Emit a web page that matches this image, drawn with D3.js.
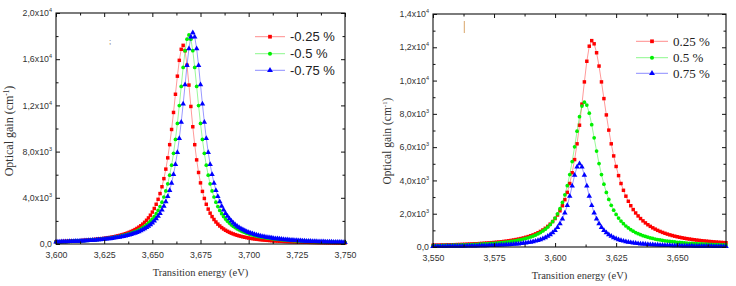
<!DOCTYPE html>
<html>
<head>
<meta charset="utf-8">
<script src="https://cdn.jsdelivr.net/npm/d3@7"></script>
<style>
	body { margin: 0; background: #fff; }
	svg { display: block; font-family: "Liberation Sans", Arial, sans-serif; }
</style>
</head>
<body>
<svg id="chart" width="736" height="286"></svg>
<script>
// points are sampled every 1 meV
var STEP_E = 0.001;
var LEFT_START = 3.600;
var RIGHT_START = 3.550;

var leftLabels = ["-0.25 %", "-0.5 %", "-0.75 %"];
var rightLabels = ["0.25 %", "0.5 %", "0.75 %"];

// left panel, 3.600 .. 3.750 eV
var leftRed = [191,198,203,210,217,224,230,239,248,256,265,273,284,294,306,318,330,344,358,373,
	389,406,425,444,464,487,511,537,564,595,626,662,700,741,786,834,888,948,1011,1084,
	1163,1250,1348,1459,1581,1720,1877,2055,2260,2494,2764,3075,3440,3867,4367,4957,5657,6483,7458,8600,
	9916,11390,12965,14531,15901,16856,17200,
	16736,15480,13760,11908,10151,8600,7284,6192,5292,4553,3944,3440,3020,2669,2372,2121,1906,1720,1560,1421,
	1299,1190,1096,1011,937,870,810,755,705,662,621,585,550,519,490,464,440,418,397,378,
	361,344,329,315,301,287,275,265,255,244,236,225,218,210,203,194,189,182,175,170,
	165,160,155,150,145,141,137,133,129,125,122,119,115,112,109,106,104,101,99,96,94,92,89,87];

var leftGreen = [185,190,195,201,208,214,221,228,235,243,252,261,270,279,288,299,310,322,335,348,
	362,376,393,409,427,447,467,489,512,538,565,594,626,659,697,737,780,827,878,934,
	997,1064,1140,1224,1316,1419,1535,1663,1810,1975,2163,2378,2625,2909,3236,3620,4069,4596,5216,5953,
	6822,7848,9050,10435,11986,13644,15291,16733,17738,18100,
	17738,16733,15291,13644,11986,10435,9050,7848,6822,5953,5216,4596,4069,3620,3236,2909,2625,2378,2163,1975,
	1810,1663,1535,1419,1316,1224,1140,1064,997,934,878,827,780,737,697,659,626,594,565,538,
	512,489,467,447,427,409,393,376,362,348,335,322,310,299,288,279,270,261,252,243,
	235,228,221,214,208,201,195,190,185,179,174,170,165,161,156,152,148,145,141,138,134];

var leftBlue = [176,181,187,192,198,203,210,216,223,231,238,245,254,264,273,282,291,302,313,326,
	339,351,366,381,397,414,432,452,472,494,518,544,571,600,633,666,705,745,789,836,
	888,944,1008,1076,1153,1237,1330,1435,1552,1682,1830,1997,2187,2405,2654,2941,3272,3660,4114,4646,
	5274,6019,6897,7935,9150,10550,12118,13795,15460,16918,17934,18300,
	17934,16918,15460,13795,12118,10550,9150,7935,6897,6019,5274,4646,4114,3660,3272,2941,2654,2405,2187,1997,
	1830,1682,1552,1435,1330,1237,1153,1076,1008,944,888,836,789,745,705,666,633,600,571,544,
	518,494,472,452,432,414,397,381,366,351,339,326,313,302,291,282,273,264,254,245,
	238,231,223,216,210,203,198,192,187,181,176,172,167,163,157,154,150,146,143];

// right panel, 3.550 .. 3.670 eV
var rightRed = [105,108,111,115,119,123,126,131,136,140,146,151,157,162,170,176,184,191,198,207,
	217,227,237,248,260,273,286,301,317,335,353,374,397,422,448,477,508,544,584,627,
	676,729,790,858,936,1024,1125,1240,1374,1529,1710,1924,2177,2480,2843,3282,3815,4464,5251,6200,
	7318,8585,9920,11160,12065,12400,
	12209,11671,10871,9920,8917,7936,7023,6200,5473,4838,4289,3815,3406,3053,2747,2480,2248,2045,1867,1710,
	1571,1448,1338,1240,1152,1073,1001,936,877,823,774,729,688,651,616,584,554,526,501,477,
	455,434,415,397,379,365,350,335,322,310,298,286,277,267,257];

var rightGreen = [81,83,86,89,92,96,98,103,106,110,114,119,124,129,134,139,145,152,159,166,
	174,183,191,201,211,223,235,248,263,278,296,314,335,357,382,410,440,474,512,554,
	602,657,719,789,870,964,1073,1200,1350,1528,1740,1995,2303,2677,3132,3684,4350,5135,6023,6960,
	7830,8465,8700,
	8526,8043,7350,6558,5761,5016,4350,3772,3279,2861,2507,2209,1956,1740,1556,1398,1262,1143,1040,949,
	870,800,738,682,632,588,548,512,479,449,422,398,375,354,335,317,301,285,271,258,
	246,235,224,215,205,197,189,181,174,167,161,155,149,144,138,134,130,125];

var rightBlue = [34,36,37,38,40,41,43,44,46,48,50,52,54,56,58,61,64,67,70,73,
	77,81,85,90,95,100,106,112,119,127,135,144,155,166,178,192,208,226,246,268,
	294,324,358,398,445,500,566,644,740,856,1000,1179,1404,1689,2049,2500,3049,3676,4310,4808,
	5000,
	4808,4310,3676,3049,2500,2049,1689,1404,1179,1000,856,740,644,566,500,445,398,358,324,294,
	268,246,226,208,192,178,166,155,144,135,127,119,112,106,100,95,90,85,81,77,
	73,70,67,64,61,58,56,54,52,50,48,46,44,43,41,40,38,37,36,34];

var leftXTicks = [3.600, 3.625, 3.650, 3.675, 3.700, 3.725, 3.750];
var leftXMinor = [3.6125, 3.6375, 3.6625, 3.6875, 3.7125, 3.7375];
var leftYTicks = [0, 4000, 8000, 12000, 16000, 20000];
var leftYMinor = [2000, 6000, 10000, 14000, 18000];
var leftYLabels = [["0,0", ""], ["4,0x10", "3"], ["8,0x10", "3"], ["1,2x10", "4"], ["1,6x10", "4"], ["2,0x10", "4"]];

var rightXTicks = [3.550, 3.575, 3.600, 3.625, 3.650];
var rightXMinor = [3.5625, 3.5875, 3.6125, 3.6375, 3.6625];
var rightYTicks = [0, 2000, 4000, 6000, 8000, 10000, 12000, 14000];
var rightYMinor = [1000, 3000, 5000, 7000, 9000, 11000, 13000];
var rightYLabels = [["0,0", ""], ["2,0x10", "3"], ["4,0x10", "3"], ["6,0x10", "3"], ["8,0x10", "3"],
	["1,0x10", "4"], ["1,2x10", "4"], ["1,4x10", "4"]];

var seriesColors = ["#ff0000", "#00f000", "#0000ff"];
var seriesSymbols = [d3.symbolSquare, d3.symbolCircle, d3.symbolTriangle];
var symbolSizes = [12, 11, 13];

var svg = d3.select("#chart");

function toPoints(values, start) {
	return values.map((v, i) => ({ e: start + i * STEP_E, g: v }));
}

function drawPanel(cfg) {
	var w = cfg.right - cfg.left;
	var h = cfg.bottom - cfg.top;

	var x = d3.scaleLinear().domain(cfg.xDomain).range([0, w]);
	var y = d3.scaleLinear().domain(cfg.yDomain).range([h, 0]);

	var g = svg.append("g").attr("transform", `translate(${cfg.left},${cfg.top})`);

	// curves
	var line = d3.line().x(d => x(d.e)).y(d => y(d.g));
	cfg.series.forEach((values, si) => {
		var pts = toPoints(values, cfg.start).filter(d => d.e <= cfg.xDomain[1] + 1e-9);
		g.append("path")
			.datum(pts)
			.attr("fill", "none")
			.attr("stroke", seriesColors[si])
			.attr("stroke-opacity", 0.5)
			.attr("stroke-width", 0.8)
			.attr("d", line);
		g.selectAll(".m" + si)
			.data(pts)
			.join("path")
			.attr("class", "m" + si)
			.attr("transform", d => `translate(${x(d.e)},${y(d.g)})`)
			.attr("fill", seriesColors[si])
			.attr("d", d3.symbol().type(seriesSymbols[si]).size(symbolSizes[si]));
	});

	// frame
	g.append("rect")
		.attr("width", w).attr("height", h)
		.attr("fill", "none").attr("stroke", "#111").attr("stroke-width", 1.1);

	// inward ticks on all four sides
	var fmtX = v => d3.format(".3f")(v).replace(".", ",");
	function ticks(axis, vals, size, tx, ty, labelled) {
		var a = axis.tickValues(vals).tickSize(-size).tickSizeOuter(0)
			.tickPadding(8).tickFormat(labelled ? fmtX : "");
		var sel = g.append("g").attr("transform", `translate(${tx},${ty})`).call(a);
		sel.select(".domain").remove();
		sel.selectAll("line").attr("stroke", "#111");
		sel.selectAll("text")
			.attr("fill", "#333")
			.style("font-size", "8.8px")
			.style("font-family", "'Liberation Sans', Arial, sans-serif");
	}
	ticks(d3.axisBottom(x), cfg.xTicks, 4, 0, h, true);
	ticks(d3.axisBottom(x), cfg.xMinor, 2.5, 0, h, false);
	ticks(d3.axisTop(x), cfg.xTicks, 4, 0, 0, false);
	ticks(d3.axisTop(x), cfg.xMinor, 2.5, 0, 0, false);
	ticks(d3.axisLeft(y), cfg.yTicks, 4, 0, 0, false);
	ticks(d3.axisLeft(y), cfg.yMinor, 2.5, 0, 0, false);
	ticks(d3.axisRight(y), cfg.yTicks, 4, w, 0, false);
	ticks(d3.axisRight(y), cfg.yMinor, 2.5, w, 0, false);

	// y tick labels with exponents
	cfg.yTicks.forEach((v, i) => {
		var t = g.append("text")
			.attr("x", -4)
			.attr("y", y(v) + 3.2)
			.attr("text-anchor", "end")
			.attr("fill", "#333")
			.style("font-size", "8.8px");
		t.append("tspan").text(cfg.yLabels[i][0]);
		if (cfg.yLabels[i][1]) {
			t.append("tspan")
				.attr("dy", -4)
				.style("font-size", "5.5px")
				.text(cfg.yLabels[i][1]);
		}
	});

	// axis titles
	svg.append("text")
		.attr("x", cfg.left + w / 2 + cfg.xTitleShift)
		.attr("y", cfg.xTitleY)
		.attr("text-anchor", "middle")
		.attr("fill", "#333")
		.style("font-family", "'Liberation Serif', 'Times New Roman', serif")
		.style("font-size", "10.5px")
		.text("Transition energy (eV)");

	var yt = svg.append("text")
		.attr("transform", `translate(${cfg.yTitleX},${cfg.yTitleY}) rotate(-90)`)
		.attr("text-anchor", "middle")
		.attr("fill", "#333")
		.style("font-family", "'Liberation Serif', 'Times New Roman', serif")
		.style("font-size", cfg.yTitleSize + "px");
	yt.append("tspan").text("Optical gain (cm");
	yt.append("tspan").attr("dy", -4).style("font-size", "0.6em").text("-1");
	yt.append("tspan").attr("dy", 4).text(")");

	// legend
	cfg.labels.forEach((lab, i) => {
		var ly = cfg.legendY[i];
		svg.append("line")
			.attr("x1", cfg.legendX).attr("x2", cfg.legendX + cfg.legendLen)
			.attr("y1", ly).attr("y2", ly)
			.attr("stroke", seriesColors[i]).attr("stroke-opacity", 0.5).attr("stroke-width", 0.9);
		svg.append("path")
			.attr("transform", `translate(${cfg.legendX + cfg.legendLen / 2},${ly})`)
			.attr("fill", seriesColors[i])
			.attr("d", d3.symbol().type(seriesSymbols[i]).size(symbolSizes[i] + 2));
		svg.append("text")
			.attr("x", cfg.legendX + cfg.legendLen + 5)
			.attr("y", ly + 4.5)
			.attr("fill", "#222")
			.style("font-family", cfg.legendFont)
			.style("font-size", "13px")
			.text(lab);
	});
}

drawPanel({
	left: 56, right: 345, top: 13, bottom: 244,
	xDomain: [3.600, 3.750], yDomain: [0, 20000],
	start: LEFT_START,
	series: [leftRed, leftGreen, leftBlue],
	labels: leftLabels,
	xTicks: leftXTicks, xMinor: leftXMinor,
	yTicks: leftYTicks, yMinor: leftYMinor, yLabels: leftYLabels,
	xTitleShift: 0, xTitleY: 276,
	yTitleX: 13, yTitleY: 131, yTitleSize: 12,
	legendX: 255, legendLen: 30, legendY: [36.7, 53.7, 70.3],
	legendFont: "'Liberation Sans', Arial, sans-serif"
});

drawPanel({
	left: 433, right: 726, top: 14, bottom: 247,
	xDomain: [3.550, 3.670], yDomain: [0, 14000],
	start: RIGHT_START,
	series: [rightRed, rightGreen, rightBlue],
	labels: rightLabels,
	xTicks: rightXTicks, xMinor: rightXMinor,
	yTicks: rightYTicks, yMinor: rightYMinor, yLabels: rightYLabels,
	xTitleShift: 0, xTitleY: 279,
	yTitleX: 391, yTitleY: 141, yTitleSize: 11.5,
	legendX: 636, legendLen: 32, legendY: [41.3, 57.7, 73.3],
	legendFont: "'Liberation Serif', 'Times New Roman', serif"
});

// small stray marks in the original figure
svg.append("line").attr("x1", 464.3).attr("x2", 464.3).attr("y1", 21).attr("y2", 33)
	.attr("stroke", "#d9a56a").attr("stroke-width", 1);
svg.append("text").attr("x", 110).attr("y", 44).attr("text-anchor", "middle")
	.attr("fill", "#6b5a40").style("font-size", "8px").text(";");
</script>
</body>
</html>
